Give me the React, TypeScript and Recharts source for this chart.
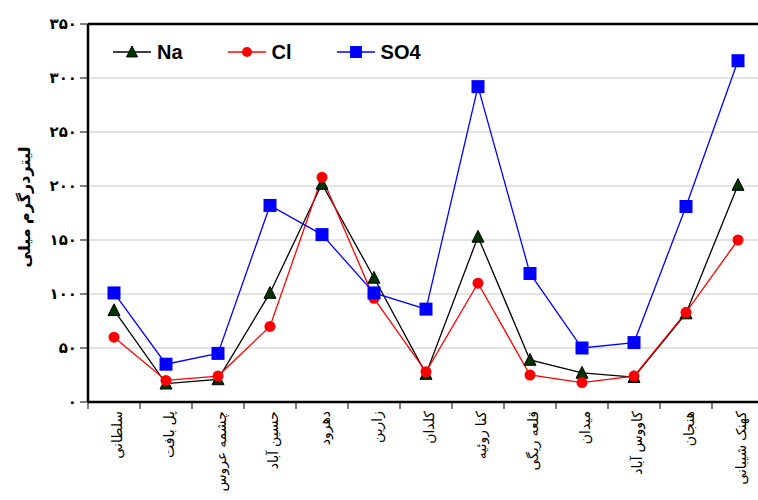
import React from "react"
import { LineChart, Line, XAxis, YAxis, CartesianGrid, ReferenceLine } from "recharts"

const stations = [
  "سلطانی",
  "پل بافت",
  "چشمه عروس",
  "حسین آباد",
  "دهرود",
  "زارین",
  "کلدان",
  "کنا روئیه",
  "قلعه ریگی",
  "میدان",
  "کاووس آباد",
  "هنجان",
  "کهنک شیبانی",
]

const na = [85, 17, 21, 101, 202, 115, 26, 153, 39, 27, 23, 82, 201]
const cl = [60, 20, 24, 70, 208, 96, 28, 110, 25, 18, 24, 83, 150]
const so4 = [101, 35, 45, 182, 155, 101, 86, 292, 119, 50, 55, 181, 316]

const yTicks = [0, 50, 100, 150, 200, 250, 300, 350]
const seriesKeys = ["Na", "Cl", "SO4"]

const data = stations.map((name, i) => ({ name, Na: na[i], Cl: cl[i], SO4: so4[i] }))

const FONT = "Arial, 'Liberation Sans', 'DejaVu Sans', sans-serif"
const W = 800
const H = 500
const M = { top: 24, right: 36, bottom: 8, left: 40 }
const Y_W = 48
const X_H = 90
const BAND = (W - M.left - M.right - Y_W) / stations.length

const toFa = (v: number) => String(v).replace(/\d/g, (d) => "۰۱۲۳۴۵۶۷۸۹"[+d])

function Triangle({ cx, cy, side = 12 }: any) {
  if (cx == null || cy == null) return null
  const h = side * 0.9
  return (
    <polygon
      points={`${cx},${cy - h / 2 - 1} ${cx - side / 2},${cy + h / 2} ${cx + side / 2},${cy + h / 2}`}
      fill="#003300"
      stroke="#000"
      strokeWidth={1}
    />
  )
}

function Square({ cx, cy, side = 13 }: any) {
  if (cx == null || cy == null) return null
  return <rect x={cx - side / 2} y={cy - side / 2} width={side} height={side} fill="#0000ff" />
}

function Dot({ cx, cy, rad = 5.5 }: any) {
  if (cx == null || cy == null) return null
  return <circle cx={cx} cy={cy} r={rad} fill="#ff0000" />
}

function StationTick({ x, y, payload, index }: any) {
  return (
    <g>
      <line x1={x - BAND / 2} x2={x - BAND / 2} y1={y} y2={y + 7} stroke="#000" strokeWidth={1} />
      {index === stations.length - 1 && (
        <line x1={x + BAND / 2} x2={x + BAND / 2} y1={y} y2={y + 7} stroke="#000" strokeWidth={1} />
      )}
      <text
        x={x + 3}
        y={y + 9}
        transform={`rotate(-90 ${x + 3} ${y + 9})`}
        textAnchor="end"
        dy="0.35em"
        fontSize={14}
        fontFamily={FONT}
        fill="#000"
      >
        {payload.value}
      </text>
    </g>
  )
}

function YTitle({ viewBox }: any) {
  const x = 24
  const y = viewBox.y + 183
  return (
    <text
      x={x}
      y={y}
      transform={`rotate(-90 ${x} ${y})`}
      textAnchor="middle"
      dy="0.35em"
      fontSize={16}
      fontWeight="bold"
      fontFamily={FONT}
      fill="#000"
    >
      لیتردرگرم میلی
    </text>
  )
}

function legendIcon(key: string) {
  const line = key === "Na" ? "#000" : key === "Cl" ? "#ff0000" : "#0000ff"
  return (
    <svg width={38} height={16} style={{ display: "block" }}>
      <line x1={0} x2={38} y1={8} y2={8} stroke={line} strokeWidth={1.3} />
      {key === "Na" && <Triangle cx={19} cy={8} side={11} />}
      {key === "Cl" && <Dot cx={19} cy={8} rad={5} />}
      {key === "SO4" && <Square cx={19} cy={8} side={12} />}
    </svg>
  )
}

function LegendBox() {
  return (
    <div
      style={{
        position: "absolute",
        left: 113,
        top: 42,
        display: "flex",
        alignItems: "center",
        gap: 45,
        fontFamily: FONT,
      }}
    >
      {seriesKeys.map((k) => (
        <div key={k} style={{ display: "flex", alignItems: "center", gap: 6 }}>
          {legendIcon(k)}
          <span style={{ fontSize: 20, fontWeight: "bold", lineHeight: "20px" }}>{k}</span>
        </div>
      ))}
    </div>
  )
}

export default function App() {
  return (
    <div style={{ position: "absolute", left: 0, top: 0, width: 758, height: 500, overflow: "hidden", background: "#fff" }}>
      <LineChart width={W} height={H} data={data} margin={M}>
        <CartesianGrid vertical={false} stroke="#c8c8c8" strokeWidth={1} />
        <XAxis
          dataKey="name"
          height={X_H}
          interval={0}
          padding={{ left: BAND / 2, right: BAND / 2 }}
          tickLine={false}
          tickSize={0}
          tickMargin={0}
          axisLine={{ stroke: "#000", strokeWidth: 2.5 }}
          tick={<StationTick />}
        />
        <YAxis
          width={Y_W}
          domain={[0, 350]}
          ticks={yTicks}
          interval={0}
          tickFormatter={toFa}
          tickSize={8}
          tickMargin={3}
          tickLine={{ stroke: "#000", strokeWidth: 1 }}
          axisLine={{ stroke: "#000", strokeWidth: 2.5 }}
          tick={{ fill: "#000", fontSize: 15, fontWeight: "bold", fontFamily: FONT }}
          label={<YTitle />}
        />
        <ReferenceLine y={350} stroke="#000" strokeWidth={2.5} />
        <Line dataKey="Na" stroke="#000" strokeWidth={1.3} isAnimationActive={false} dot={<Triangle />} activeDot={false} />
        <Line dataKey="Cl" stroke="#ff0000" strokeWidth={1.3} isAnimationActive={false} dot={<Dot />} activeDot={false} />
        <Line dataKey="SO4" stroke="#0000ff" strokeWidth={1.3} isAnimationActive={false} dot={<Square />} activeDot={false} />
      </LineChart>
      <LegendBox />
    </div>
  )
}
